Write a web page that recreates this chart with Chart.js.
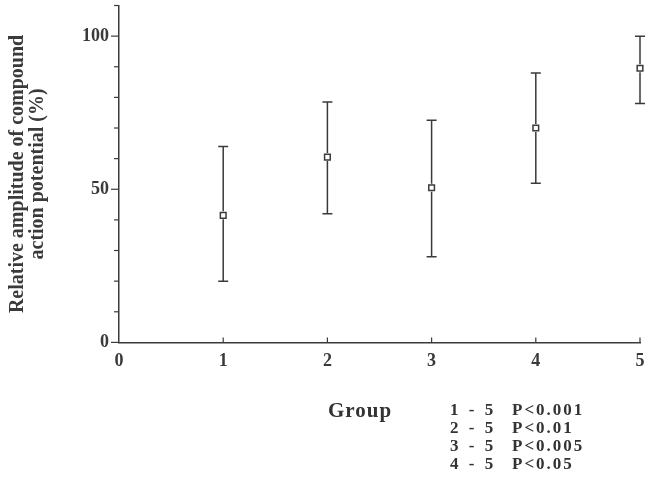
<!DOCTYPE html>
<html>
<head>
<meta charset="utf-8">
<script src="https://cdn.jsdelivr.net/npm/chart.js@4.4.1/dist/chart.umd.min.js"></script>
<style>
    body { margin: 0; background: #fff; }
    #wrap { position: relative; width: 648px; height: 484px; }
    .note { position: absolute; font-family: 'Liberation Serif', serif; font-weight: bold; color: #333; white-space: pre; }
</style>
</head>
<body>
<div id="wrap">
    <canvas id="chart" width="648" height="484"></canvas>
    <div class="note" style="left:328px; top:398px; font-size:21px; letter-spacing:1px;">Group</div>
    <div class="note" id="pairs" style="left:450px; top:401px; font-size:17px; line-height:18px; letter-spacing:3px;"></div>
    <div class="note" id="pvals" style="left:512px; top:401px; font-size:17px; line-height:18px; letter-spacing:2px;"></div>
</div>
<script>
//
// Data
//

const groups = [ 1, 2, 3, 4, 5 ]
const means = [ 41.5, 60.5, 50.5, 70, 89.5 ]
const upper = [ 64, 78.5, 72.5, 88, 100 ]
const lower = [ 20, 42, 28, 52, 78 ]
const x_ticks = [ 0, 1, 2, 3, 4, 5 ]
const y_labels = [ 0, 50, 100 ]
const comparisons = [ '1 - 5', '2 - 5', '3 - 5', '4 - 5' ]
const p_values = [ 'P<0.001', 'P<0.01', 'P<0.005', 'P<0.05' ]

document.getElementById('pairs').textContent = comparisons.join('\n')
document.getElementById('pvals').textContent = p_values.join('\n')

const INK = '#3a3a3a'
const FONT = { family: 'Liberation Serif', weight: 'bold', size: 18 }

// error bars and tick marks, drawn through the scales
const error_bars = {
    id: 'error_bars',
    afterDatasetsDraw (chart) {
        const { ctx, scales: { x, y } } = chart
        ctx.save()
        ctx.strokeStyle = INK
        ctx.lineWidth = 1.5
        groups.forEach((g, i) => {
            const px = x.getPixelForValue(g)
            const top = y.getPixelForValue(upper[i])
            const bot = y.getPixelForValue(lower[i])
            const mid = y.getPixelForValue(means[i])
            ctx.beginPath()
            ctx.moveTo(px, top); ctx.lineTo(px, mid - 4)
            ctx.moveTo(px, mid + 4); ctx.lineTo(px, bot)
            ctx.moveTo(px - 5, top); ctx.lineTo(px + 5, top)
            ctx.moveTo(px - 5, bot); ctx.lineTo(px + 5, bot)
            ctx.stroke()
        })
        // y tick marks, every 10, longer at the labelled ones
        ctx.lineWidth = 1.2
        for (let v = 0; v <= 110; v += 10) {
            const py = y.getPixelForValue(v)
            const len = y_labels.includes(v) ? 8 : 5
            ctx.beginPath()
            ctx.moveTo(x.left - len, py); ctx.lineTo(x.left, py)
            ctx.stroke()
        }
        // x tick marks, pointing up
        for (const t of x_ticks.slice(1)) {
            const px = x.getPixelForValue(t)
            ctx.beginPath()
            ctx.moveTo(px, y.bottom); ctx.lineTo(px, y.bottom - 5)
            ctx.stroke()
        }
        ctx.restore()
    },
}

const ctx = document.getElementById('chart').getContext('2d')
new Chart(ctx, {
    type: 'scatter',
    data: {
        datasets: [
            {
                data: groups.map((g, i) => ({ x: g, y: means[i] })),
                pointStyle: 'rect',
                pointRadius: 4,
                borderColor: INK,
                borderWidth: 1.5,
                backgroundColor: '#fff',
                clip: false,
            },
        ],
    },
    options: {
        responsive: false,
        animation: false,
        layout: { padding: { left: 8, right: 8, top: 5, bottom: 104 } },
        plugins: { legend: { display: false }, tooltip: { enabled: false } },
        scales: {
            x: {
                type: 'linear',
                min: 0,
                max: 5,
                grid: { display: false, drawTicks: false },
                border: { display: true, color: INK, width: 1.5 },
                afterBuildTicks: (axis) => { axis.ticks = x_ticks.map((v) => ({ value: v })) },
                afterFit: (axis) => { axis.paddingLeft = 0; axis.paddingRight = 0 },
                ticks: { color: INK, font: FONT, padding: 8, maxRotation: 0 },
            },
            y: {
                min: 0,
                max: 110,
                grid: { display: false, drawTicks: false },
                border: { display: true, color: INK, width: 1.5 },
                afterBuildTicks: (axis) => { axis.ticks = y_labels.map((v) => ({ value: v })) },
                afterFit: (axis) => { axis.paddingTop = 0; axis.paddingBottom = 0 },
                ticks: { color: INK, font: FONT, padding: 10 },
                title: {
                    display: true,
                    text: [ 'Relative amplitude of compound', 'action potential (%)' ],
                    color: INK,
                    font: { family: 'Liberation Serif', weight: 'bold', size: 20, lineHeight: 1.0 },
                    padding: { top: 0, bottom: 24 },
                },
            },
        },
    },
    plugins: [ error_bars ],
})
</script>
</body>
</html>
